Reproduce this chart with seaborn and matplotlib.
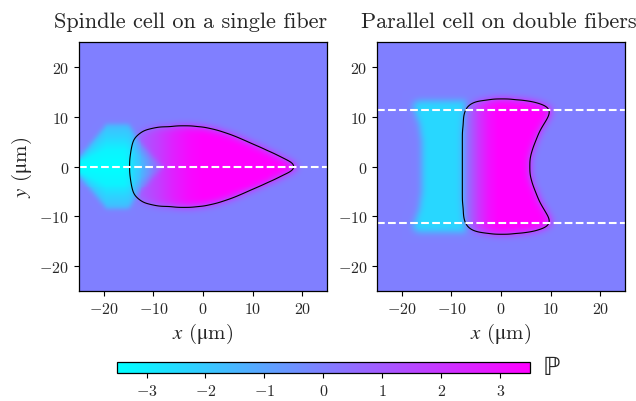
import numpy as np
import matplotlib
matplotlib.use("Agg")
import matplotlib.pyplot as plt
from matplotlib.path import Path
import seaborn as sns

# ---------------------------------------------------------------
# values
# ---------------------------------------------------------------
L = 25.0                      # half width of the box (um)
N = 250                       # grid cells per side
axis_ticks = [-20, -10, 0, 10, 20]
cbar_ticks = [-3, -2, -1, 0, 1, 2, 3]
p_lim = 3.5

titles = ["Spindle cell on a single fiber", "Parallel cell on double fibers"]

# spindle cell outline, upper half (mirrored about y = 0)
spindle_x = [-14.9, -14.6, -14.0, -12.0, -8.7, -3.3, 0.0, 3.0, 6.0, 9.0, 12.0, 15.0, 17.5, 19.2]
spindle_y = [0.0, 3.0, 5.7, 7.3, 8.0, 8.2, 8.0, 7.3, 6.3, 5.0, 3.7, 2.3, 1.1, 0.0]
# polarisation inside the spindle cell along x
p1_x = [-15, -12, -9, -6, -3, 0, 25]
p1_v = [0.6, 1.1, 1.8, 2.6, 3.2, 3.5, 3.5]
# trail behind the spindle cell: half height along x
trail1_x = [-26.7, -19.5, -15.0, -13.0, -10.0, -7.0]
trail1_h = [0.0, 8.6, 8.6, 5.5, 2.5, 0.0]
# trail strength along x and across (relative height)
trail1_fx = [-25, -16, -13, -11, -9, -7]
trail1_fv = [1.0, 1.0, 0.85, 0.6, 0.3, 0.0]
trail1_gr = [0.0, 0.4, 0.7, 1.0]
trail1_gv = [1.0, 0.9, 0.65, 0.45]
trail1_p = -3.5
fiber1_y = [0.0]

# parallel cell outline, upper half
parallel_x = [-7.9, -7.8, -7.6, -7.3, -6.6, -5.0, -2.0, 1.0, 4.0, 6.6, 9.1, 10.2, 9.1, 7.7, 6.4, 5.9, 5.7]
parallel_y = [0.0, 5.5, 10.0, 11.3, 12.4, 13.1, 13.5, 13.6, 13.4, 13.0, 12.2, 11.3, 9.3, 7.0, 3.7, 2.0, 0.0]
p2_x = [-8.0, -6.5, -4.5, -2.5, -0.5, 25]
p2_v = [-1.0, 0.6, 2.0, 3.0, 3.5, 3.5]
# trail behind the parallel cell, upper half
trail2_x = [-15.9, -16.0, -16.5, -17.4, -17.8, -17.4, -16.5, -7.0, -7.0]
trail2_y = [0.0, 5.0, 8.5, 11.0, 12.2, 12.9, 13.2, 13.2, 0.0]
trail2_p = -2.4
fiber2_y = [-11.3, 11.3]

# ---------------------------------------------------------------
# grid + fields
# ---------------------------------------------------------------
dx = 2 * L / N
coords = -L + (np.arange(N) + 0.5) * dx
X, Y = np.meshgrid(coords, coords)
pts = np.column_stack([X.ravel(), Y.ravel()])


def inside(xs, ys):
    xs, ys = np.asarray(xs, float), np.asarray(ys, float)
    px = np.concatenate([xs, xs[::-1]])
    py = np.concatenate([ys, -ys[::-1]])
    return Path(np.column_stack([px, py])).contains_points(pts).reshape(N, N)


def soften(mask, sigma=0.8):
    s = sigma / dx
    r = int(3 * s) + 1
    k = np.exp(-0.5 * (np.arange(-r, r + 1) / s) ** 2)
    k /= k.sum()
    a = np.pad(mask.astype(float), r, mode="edge")
    a = np.apply_along_axis(lambda v: np.convolve(v, k, mode="valid"), 0, a)
    a = np.apply_along_axis(lambda v: np.convolve(v, k, mode="valid"), 1, a)
    return a


def to_idx(v):
    return (np.asarray(v, float) + L) / dx


# spindle panel
cell1 = soften(inside(spindle_x, spindle_y), 0.8)
h1 = np.interp(X, trail1_x, trail1_h, left=0, right=0)
r1 = np.abs(Y) / np.maximum(h1, 1e-6)
trail1 = soften(np.abs(Y) < h1, 0.45)
trail1_val = (trail1_p * np.interp(X, trail1_fx, trail1_fv)
              * np.interp(r1, trail1_gr, trail1_gv))
field1 = cell1 * np.interp(X, p1_x, p1_v) + trail1 * trail1_val

# parallel panel
cell2 = soften(inside(parallel_x, parallel_y), 0.8)
trail2 = soften(inside(trail2_x, trail2_y), 0.7)
field2 = cell2 * np.interp(X, p2_x, p2_v) + trail2 * (1 - cell2) * trail2_p

panels = [(field1, cell1, fiber1_y), (field2, cell2, fiber2_y)]

# ---------------------------------------------------------------
# plot
# ---------------------------------------------------------------
sns.set_style("ticks")
plt.rcParams["font.family"] = ["cmr10", "DejaVu Serif"]
plt.rcParams["mathtext.fontset"] = "cm"
plt.rcParams["axes.unicode_minus"] = False

fig = plt.figure(figsize=(6.36, 4.02), dpi=100)
axes = [fig.add_axes([0.1242, 0.2736, 0.390, 0.619]),
        fig.add_axes([0.5928, 0.2736, 0.390, 0.619])]
cax = fig.add_axes([0.184, 0.0697, 0.649, 0.0274])

cmap = sns.color_palette("cool", as_cmap=True)
title_x = [0.45, 0.49]
unit = r" ($\mathrm{\mu}$m)"

for i, (ax, (field, cell_soft, fibers)) in enumerate(zip(axes, panels)):
    sns.heatmap(field, ax=ax, cmap=cmap, vmin=-p_lim, vmax=p_lim,
                cbar=(i == 0), cbar_ax=cax if i == 0 else None,
                cbar_kws={"orientation": "horizontal"},
                xticklabels=False, yticklabels=False, rasterized=True)
    ax.set_xlim(0, N)
    ax.set_ylim(0, N)
    ax.contour(to_idx(coords), to_idx(coords), cell_soft, levels=[0.5],
               colors="k", linewidths=0.8)
    for fy in fibers:
        ax.axhline(to_idx(fy), color="white", ls="--", lw=1.5)

    ax.set_xticks(to_idx(axis_ticks))
    ax.set_xticklabels([f"${t}$" for t in axis_ticks], rotation=0, fontsize=11.5)
    ax.set_yticks(to_idx(axis_ticks))
    ax.set_yticklabels([f"${t}$" for t in axis_ticks], rotation=0, fontsize=11.5)
    ax.tick_params(length=3.5, width=0.8, color="k", direction="out")
    for sp in ax.spines.values():
        sp.set_visible(True)
        sp.set_linewidth(0.9)
        sp.set_color("k")

    ax.set_xlabel(r"$x$" + unit, fontsize=15, math_fontfamily="stix")
    if i == 0:
        ax.set_ylabel(r"$y$" + unit, fontsize=15, labelpad=4,
                      math_fontfamily="stix")
    ax.set_title(titles[i], fontsize=16, x=title_x[i], pad=11)

cb = axes[0].collections[0].colorbar
cb.set_ticks(cbar_ticks, labels=[f"${t}$" for t in cbar_ticks])
cb.ax.tick_params(labelsize=11.5, length=3.5, width=0.8, color="k")
cb.outline.set_linewidth(0.9)
cb.outline.set_edgecolor("k")
cax.text(1.03, 0.5, "\u2119", transform=cax.transAxes,
         ha="left", va="center", fontsize=18, family="DejaVu Sans")

fig.savefig("out.png", dpi=100, facecolor="white")
